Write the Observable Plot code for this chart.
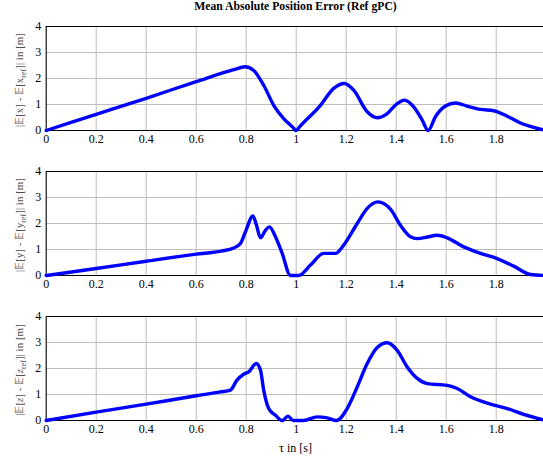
<!DOCTYPE html>
<html><head><meta charset="utf-8">
<script src="https://cdn.jsdelivr.net/npm/d3@7"></script>
<script src="https://cdn.jsdelivr.net/npm/@observablehq/plot@0.6"></script>
<style>
html,body{margin:0;padding:0;width:543px;height:462px;overflow:hidden;background:#fff;}
#root{position:relative;width:543px;height:462px;overflow:hidden;font-family:"Liberation Serif","DejaVu Serif",serif;}
#root svg.panel{position:absolute;left:0;max-width:none !important;width:560px;height:150px;}
#root svg.panel text, #root svg.panel tspan{font-family:"Liberation Serif","Times New Roman",serif !important;}
#title{position:absolute;left:0;width:591px;top:0;text-align:center;font-weight:bold;font-size:11.7px;line-height:14px;}
#xlabel{position:absolute;left:0;width:591px;top:441px;text-align:center;font-size:12px;line-height:14px;}
</style></head>
<body><div id="root"><div id="title"></div><div id="xlabel"></div></div>
<script>
const titleText = "Mean Absolute Position Error (Ref gPC)";
const xLabelText = "τ in [s]";
const xTicks = [0, 0.2, 0.4, 0.6, 0.8, 1, 1.2, 1.4, 1.6, 1.8, 2];
const yTicks = [0, 1, 2, 3, 4];

const tX = [0, 0.2, 0.4, 0.6, 0.75, 0.795, 0.83, 0.87, 0.91, 0.95, 0.985, 1.0, 1.015, 1.097, 1.15, 1.193, 1.23, 1.284, 1.324, 1.364, 1.40, 1.433, 1.47, 1.504, 1.528, 1.557, 1.597, 1.637, 1.683, 1.737, 1.79, 1.844, 1.897, 1.95, 2.0];
const errX = [0, 0.62, 1.24, 1.88, 2.34, 2.45, 2.31, 1.74, 0.97, 0.46, 0.14, 0, 0.16, 0.97, 1.62, 1.81, 1.55, 0.72, 0.49, 0.65, 1.0, 1.17, 0.91, 0.4, 0, 0.53, 0.94, 1.06, 0.94, 0.81, 0.76, 0.55, 0.29, 0.12, 0];

const tY = [0, 0.2, 0.4, 0.6, 0.70, 0.75, 0.777, 0.797, 0.827, 0.841, 0.857, 0.877, 0.893, 0.917, 0.944, 0.977, 1.01, 1.057, 1.11, 1.157, 1.19, 1.244, 1.284, 1.327, 1.377, 1.417, 1.457, 1.484, 1.525, 1.564, 1.604, 1.67, 1.737, 1.804, 1.87, 1.937, 2.0];
const errY = [0, 0.27, 0.55, 0.82, 0.94, 1.06, 1.23, 1.68, 2.29, 1.94, 1.45, 1.74, 1.87, 1.49, 0.85, 0, 0, 0.40, 0.85, 0.85, 1.17, 2.0, 2.58, 2.83, 2.55, 1.93, 1.49, 1.42, 1.48, 1.55, 1.45, 1.10, 0.85, 0.65, 0.36, 0.04, 0];

const tZ = [0, 0.2, 0.4, 0.6, 0.697, 0.737, 0.763, 0.79, 0.81, 0.84, 0.857, 0.87, 0.89, 0.917, 0.944, 0.967, 0.988, 1.03, 1.084, 1.124, 1.161, 1.204, 1.244, 1.284, 1.324, 1.364, 1.404, 1.444, 1.484, 1.524, 1.604, 1.644, 1.697, 1.777, 1.844, 1.91, 2.0];
const errZ = [0, 0.32, 0.63, 0.95, 1.10, 1.17, 1.55, 1.78, 1.87, 2.19, 1.94, 1.17, 0.46, 0.2, 0, 0.17, 0, 0, 0.14, 0.1, 0, 0.46, 1.29, 2.19, 2.81, 2.99, 2.70, 2.06, 1.62, 1.42, 1.35, 1.23, 0.91, 0.63, 0.46, 0.24, 0];

document.getElementById("title").textContent = titleText;
document.getElementById("xlabel").textContent = xLabelText;

const panels = [
  {t: tX, v: errX, top: 0, v1: "x"},
  {t: tY, v: errY, top: 145, v1: "y"},
  {t: tZ, v: errZ, top: 290, v1: "z"}
];

const root = document.getElementById("root");
const W = 560, ML = 45.7, MR = W - 545.7;
for (const p of panels) {
  const data = p.t.map((t, i) => ({t, v: p.v[i]}));
  const chart = Plot.plot({
    width: W, height: 150,
    marginLeft: ML, marginRight: MR, marginTop: 26, marginBottom: 20,
    style: "font-family: 'Liberation Serif', serif; font-size: 12px; color: #000; overflow: visible; background: transparent; max-width: none;",
    x: {domain: [0, 2], ticks: xTicks, tickFormat: d => String(+d.toFixed(1)), tickSize: 0, tickPadding: 4, label: null},
    y: {domain: [0, 4], ticks: yTicks, tickFormat: d => String(d), tickSize: 0, tickPadding: 5, label: null},
    marks: [
      Plot.gridX(xTicks, {stroke: "#bdbdbd", strokeOpacity: 1, strokeWidth: 1}),
      Plot.gridY(yTicks, {stroke: "#bdbdbd", strokeOpacity: 1, strokeWidth: 1}),
      Plot.frame({stroke: "#000", strokeWidth: 1}),
      Plot.line(data, {x: "t", y: "v", stroke: "#0000ff", strokeWidth: 3.4, curve: "monotone-x"})
    ]
  });
  chart.classList.add("panel");
  chart.style.top = p.top + "px";
  const svg = d3.select(chart);
  svg.selectAll("g").attr("font-family", "Liberation Serif");
  const txt = svg.append("text")
    .attr("transform", "translate(23,80) rotate(-90)")
    .attr("text-anchor", "middle")
    .attr("fill", "#505050")
    .attr("font-family", "Liberation Serif")
    .style("font-size", "11px");
  const varStyle = p.v1 === "z" ? "italic" : "normal";
  txt.append("tspan").text("|𝔼[");
  txt.append("tspan").style("font-style", varStyle).text(p.v1);
  txt.append("tspan").text("] - 𝔼[");
  txt.append("tspan").style("font-style", varStyle).text(p.v1);
  txt.append("tspan").style("font-size", "8px").attr("dy", "2.5").text("ref");
  txt.append("tspan").attr("dy", "-2.5").text("]| in [m]");
  root.appendChild(chart);
}
</script></body></html>
